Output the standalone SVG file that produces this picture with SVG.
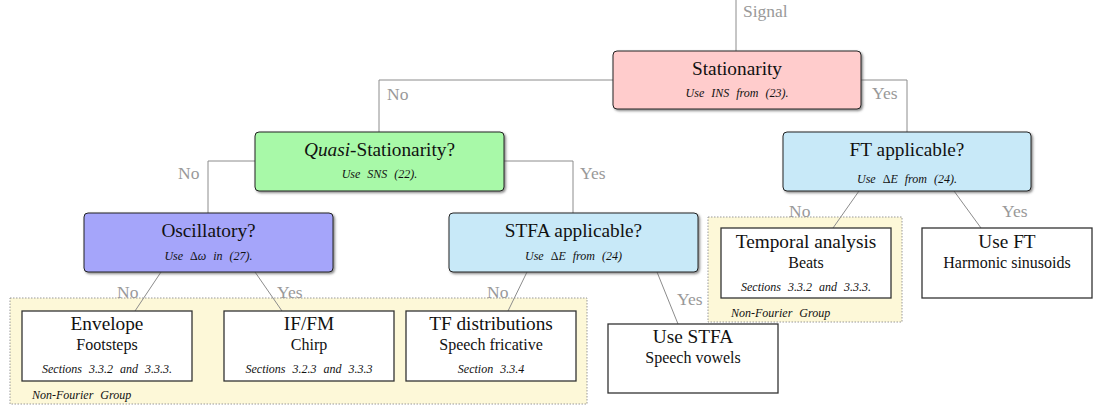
<svg xmlns="http://www.w3.org/2000/svg" width="1095" height="408" viewBox="0 0 1095 408" font-family="Liberation Serif, serif">
<defs>
<filter id="sh" x="-5%" y="-10%" width="112%" height="130%">
<feDropShadow dx="1.5" dy="1.5" stdDeviation="0.8" flood-color="#555" flood-opacity="0.7"/>
</filter>
<style>
text{font-family:'Liberation Serif','Times New Roman',serif;fill:#111}
.dec{stroke:#222;stroke-width:1;filter:url(#sh)}
.leaf{fill:#fff;stroke:#333;stroke-width:1.3}
.grp{fill:#fdf8d8;stroke:#999;stroke-width:1;stroke-dasharray:1.5 1.5}
.t{font-size:19.3px;text-anchor:middle}
.s{font-size:16px;text-anchor:middle}
.i{font-size:12px;font-style:italic;text-anchor:middle;word-spacing:4px}
.g{font-size:12px;font-style:italic;word-spacing:4px}
.lbl{font-size:17.5px;fill:#999}
.up{font-style:normal}
.con{fill:none;stroke:#8c8c8c;stroke-width:1}
</style>
</defs>
<g id="groups">
<rect id="group-nonfourier-1" class="grp" x="10" y="298" width="577" height="106"/>
<text class="g" x="32" y="399">Non-Fourier Group</text>
<rect id="group-nonfourier-2" class="grp" x="708" y="217" width="194" height="105"/>
<text class="g" x="731" y="317">Non-Fourier Group</text>
</g>
<g id="connectors">
<path class="con" d="M736 0V51"/>
<path class="con" d="M613 80H379V132"/>
<path class="con" d="M861 80H907V132"/>
<path class="con" d="M255 161H208V213"/>
<path class="con" d="M504 161H573V213"/>
<path class="con" d="M161 272L135 311"/>
<path class="con" d="M255 272L282 311"/>
<path class="con" d="M527 272L508 311"/>
<path class="con" d="M657 272L678 324"/>
<path class="con" d="M859 191L833 228"/>
<path class="con" d="M954 191L981 228"/>
<text class="lbl" x="743" y="17">Signal</text>
<text class="lbl" x="387" y="100">No</text>
<text class="lbl" x="872" y="99">Yes</text>
<text class="lbl" x="178" y="179">No</text>
<text class="lbl" x="580" y="179">Yes</text>
<text class="lbl" x="117" y="298">No</text>
<text class="lbl" x="277" y="298">Yes</text>
<text class="lbl" x="487" y="298">No</text>
<text class="lbl" x="677" y="305">Yes</text>
<text class="lbl" x="789" y="217">No</text>
<text class="lbl" x="1002" y="217">Yes</text>
</g>
<g id="stationarity">
<rect class="dec" x="613" y="51" width="248" height="58" rx="4" fill="#ffcccc"/>
<text class="t" x="737" y="75">Stationarity</text>
<text class="i" x="737" y="97">Use INS from (23).</text>
</g>
<g id="quasi">
<rect class="dec" x="255" y="132" width="249" height="59" rx="4" fill="#a8f9a8"/>
<text class="t" x="379.5" y="156"><tspan font-style="italic">Quasi</tspan>-Stationarity?</text>
<text class="i" x="379.5" y="178">Use SNS (22).</text>
</g>
<g id="ft">
<rect class="dec" x="783" y="132" width="248" height="59" rx="4" fill="#c8e9f8"/>
<text class="t" x="907" y="156">FT applicable?</text>
<text class="i" x="907" y="183">Use <tspan class="up">Δ</tspan>E from (24).</text>
</g>
<g id="oscillatory">
<rect class="dec" x="84" y="213" width="249" height="59" rx="4" fill="#a5a5fa"/>
<text class="t" x="208.5" y="237">Oscillatory?</text>
<text class="i" x="208.5" y="260">Use <tspan class="up">Δ</tspan>ω in (27).</text>
</g>
<g id="stfa">
<rect class="dec" x="449" y="213" width="249" height="59" rx="4" fill="#c8e9f8"/>
<text class="t" x="573.5" y="237">STFA applicable?</text>
<text class="i" x="573.5" y="260">Use <tspan class="up">Δ</tspan>E from (24)</text>
</g>
<g id="envelope">
<rect class="leaf" x="22" y="311" width="170" height="70"/>
<text class="t" x="107" y="330">Envelope</text>
<text class="s" x="107" y="350">Footsteps</text>
<text class="i" x="107" y="373">Sections 3.3.2 and 3.3.3.</text>
</g>
<g id="iffm">
<rect class="leaf" x="224" y="311" width="170" height="70"/>
<text class="t" x="309" y="330">IF/FM</text>
<text class="s" x="309" y="350">Chirp</text>
<text class="i" x="309" y="373">Sections 3.2.3 and 3.3.3</text>
</g>
<g id="tf">
<rect class="leaf" x="406" y="311" width="170" height="70"/>
<text class="t" x="491" y="330">TF distributions</text>
<text class="s" x="491" y="350">Speech fricative</text>
<text class="i" x="491" y="373">Section 3.3.4</text>
</g>
<g id="usestfa">
<rect class="leaf" x="608" y="324" width="170" height="69"/>
<text class="t" x="693" y="343">Use STFA</text>
<text class="s" x="693" y="363">Speech vowels</text>
</g>
<g id="temporal">
<rect class="leaf" x="721" y="228" width="170" height="70"/>
<text class="t" x="806" y="248">Temporal analysis</text>
<text class="s" x="806" y="268">Beats</text>
<text class="i" x="806" y="291">Sections 3.3.2 and 3.3.3.</text>
</g>
<g id="useft">
<rect class="leaf" x="922" y="228" width="170" height="70"/>
<text class="t" x="1007" y="248">Use FT</text>
<text class="s" x="1007" y="268">Harmonic sinusoids</text>
</g>
</svg>
